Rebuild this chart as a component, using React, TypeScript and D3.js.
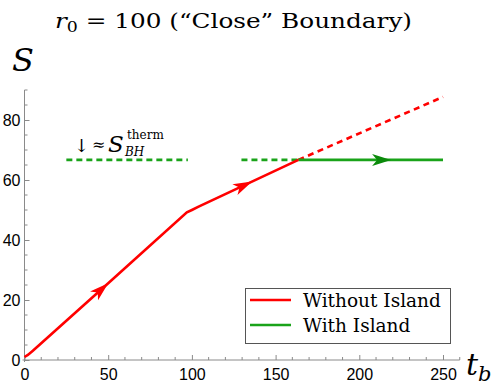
import React, { useRef, useEffect } from 'react';
import * as d3 from 'd3';

// entropy curves (t_b, S)
const redSolid: [number, number][] = [
  [0, 1], [2, 1.7], [5, 3.1], [50, 25.6], [97, 49.2], [100, 50], [104, 51.1], [163.6, 66.7],
];
const redDashed: [number, number][] = [[163.6, 66.7], [250, 87.7]];
const greenDashedA: [number, number][] = [[25, 66.7], [97.6, 66.7]];
const greenDashedB: [number, number][] = [[129.6, 66.7], [163.6, 66.7]];
const greenSolid: [number, number][] = [[163.6, 66.7], [250, 66.7]];

// where the arrowheads sit (tip position in t_b)
const redArrowT = [50, 136];
const greenArrowT = [219];

const xTicks = [0, 50, 100, 150, 200, 250];
const yTicks = [0, 20, 40, 60, 80];
const legendItems = [
  { label: 'Without Island', color: '#ff0000' },
  { label: 'With Island', color: '#1aa31a' },
];

const W = 498;
const H = 386;
const SERIF = 'DejaVu Serif, serif';
const SANS = 'Liberation Sans, Arial, sans-serif';

const App = () => {
  const ref = useRef<SVGSVGElement>(null);

  useEffect(() => {
    const svg = d3.select(ref.current);
    svg.selectAll('*').remove();

    const x = d3.scaleLinear().domain([0, 250]).range([24.5, 443]);
    const y = d3.scaleLinear().domain([0, 80]).range([360, 120]);
    const axisColor = '#8a8a8a';

    // x axis
    const gx = svg.append('g').attr('transform', `translate(0,${y(0)})`);
    gx.call(
      d3.axisBottom(x).tickValues(xTicks).tickSize(-5).tickSizeOuter(0).tickPadding(9)
        .tickFormat(d3.format('d') as any)
    );
    gx.select('.domain').remove();
    gx.append('line')
      .attr('x1', x(0) - 2).attr('x2', x(260)).attr('stroke', axisColor);
    gx.selectAll('.tick line').attr('stroke', axisColor);
    gx.selectAll('.tick text').attr('font-family', SANS).attr('font-size', 16).attr('fill', '#000');
    gx.selectAll('.minor')
      .data(d3.range(10, 261, 10).filter(v => v % 50 !== 0))
      .enter().append('line')
      .attr('x1', d => x(d)).attr('x2', d => x(d))
      .attr('y1', 0).attr('y2', -3)
      .attr('stroke', axisColor);

    // y axis
    const gy = svg.append('g').attr('transform', `translate(${x(0)},0)`);
    gy.call(
      d3.axisLeft(y).tickValues(yTicks).tickSize(-5).tickSizeOuter(0).tickPadding(4)
        .tickFormat(d3.format('d') as any)
    );
    gy.select('.domain').remove();
    gy.append('line')
      .attr('y1', y(0) + 2).attr('y2', y(90)).attr('stroke', axisColor);
    gy.selectAll('.tick line').attr('stroke', axisColor);
    gy.selectAll('.tick text').attr('font-family', SANS).attr('font-size', 16).attr('fill', '#000');
    gy.selectAll('.minor')
      .data(d3.range(5, 91, 5).filter(v => v % 20 !== 0))
      .enter().append('line')
      .attr('y1', d => y(d)).attr('y2', d => y(d))
      .attr('x1', 0).attr('x2', 3)
      .attr('stroke', axisColor);

    const line = d3.line<[number, number]>().x(d => x(d[0])).y(d => y(d[1]));

    const drawPath = (pts: [number, number][], color: string, dash: string | null) => {
      svg.append('path')
        .datum(pts)
        .attr('d', line)
        .attr('fill', 'none')
        .attr('stroke', color)
        .attr('stroke-width', 2.6)
        .attr('stroke-dasharray', dash);
    };

    drawPath(greenDashedA, '#1aa31a', '6,4');
    drawPath(greenDashedB, '#1aa31a', '6,4');
    drawPath(redDashed, '#ff0000', '6,4.5');
    drawPath(greenSolid, '#1aa31a', null);
    drawPath(redSolid, '#ff0000', null);

    // arrowheads placed on the curves
    const valueAt = (pts: [number, number][], t: number) => {
      for (let i = 1; i < pts.length; i++) {
        const [t0, s0] = pts[i - 1];
        const [t1, s1] = pts[i];
        if (t >= t0 && t <= t1) {
          const s = s0 + ((t - t0) / (t1 - t0)) * (s1 - s0);
          const ang = Math.atan2(y(s1) - y(s0), x(t1) - x(t0));
          return { px: x(t), py: y(s), ang };
        }
      }
      return null;
    };

    const drawArrow = (pts: [number, number][], t: number, color: string) => {
      const p = valueAt(pts, t);
      if (!p) return;
      const L = 19;
      const hw = 6;
      svg.append('path')
        .attr('d', `M0,0 L${-L},${-hw} L${-L + 5},0 L${-L},${hw} Z`)
        .attr('fill', color)
        .attr('transform', `translate(${p.px},${p.py}) rotate(${(p.ang * 180) / Math.PI})`);
    };

    redArrowT.forEach(t => drawArrow(redSolid, t, '#ff0000'));
    greenArrowT.forEach(t => drawArrow(greenSolid, t, '#0b8a0b'));

    // annotation ↓≈ S_BH^therm
    const ann = svg.append('g').attr('font-family', SERIF).attr('fill', '#000');
    ann.append('text').attr('x', 74).attr('y', 152).attr('font-size', 18).text('↓');
    ann.append('text').attr('x', 92).attr('y', 150).attr('font-size', 16).text('≈');
    ann.append('text').attr('x', 108).attr('y', 152).attr('font-size', 23)
      .attr('font-style', 'italic').text('S');
    ann.append('text').attr('x', 125).attr('y', 156).attr('font-size', 12)
      .attr('font-style', 'italic').text('BH');
    ann.append('text').attr('x', 127).attr('y', 139).attr('font-size', 12).text('therm');

    // title
    const title = svg.append('text')
      .attr('x', 55).attr('y', 28)
      .attr('font-family', SERIF).attr('font-size', 20).attr('fill', '#000')
      .attr('textLength', 357).attr('lengthAdjust', 'spacingAndGlyphs');
    title.append('tspan').attr('font-style', 'italic').text('r');
    title.append('tspan').attr('font-size', 14).attr('dy', 4).text('0');
    title.append('tspan').attr('dy', -4).text(' = 100 (“Close” Boundary)');

    // axis labels
    svg.append('text')
      .attr('x', 12).attr('y', 71)
      .attr('font-family', SERIF).attr('font-style', 'italic').attr('font-size', 32)
      .text('S');
    const tb = svg.append('text')
      .attr('x', 466).attr('y', 375)
      .attr('font-family', SERIF).attr('font-style', 'italic').attr('font-size', 30);
    tb.append('tspan').text('t');
    tb.append('tspan').attr('font-size', 21).attr('dy', 6).text('b');

    // legend
    const lg = svg.append('g');
    lg.append('rect')
      .attr('x', 245.5).attr('y', 288.5).attr('width', 205).attr('height', 55)
      .attr('fill', '#fff').attr('stroke', '#555').attr('stroke-width', 1);
    legendItems.forEach((it, i) => {
      const yy = 300 + i * 25;
      lg.append('line')
        .attr('x1', 250).attr('x2', 291).attr('y1', yy).attr('y2', yy)
        .attr('stroke', it.color).attr('stroke-width', 2.6);
      lg.append('text')
        .attr('x', 303).attr('y', yy + 7)
        .attr('font-family', SERIF).attr('font-size', 18.5).attr('fill', '#000')
        .text(it.label);
    });
  }, []);

  return (
    <div style={{ position: 'fixed', left: 0, top: 0 }}>
      <svg ref={ref} width={W} height={H} style={{ display: 'block', background: '#fff' }} />
    </div>
  );
};

export default App;
